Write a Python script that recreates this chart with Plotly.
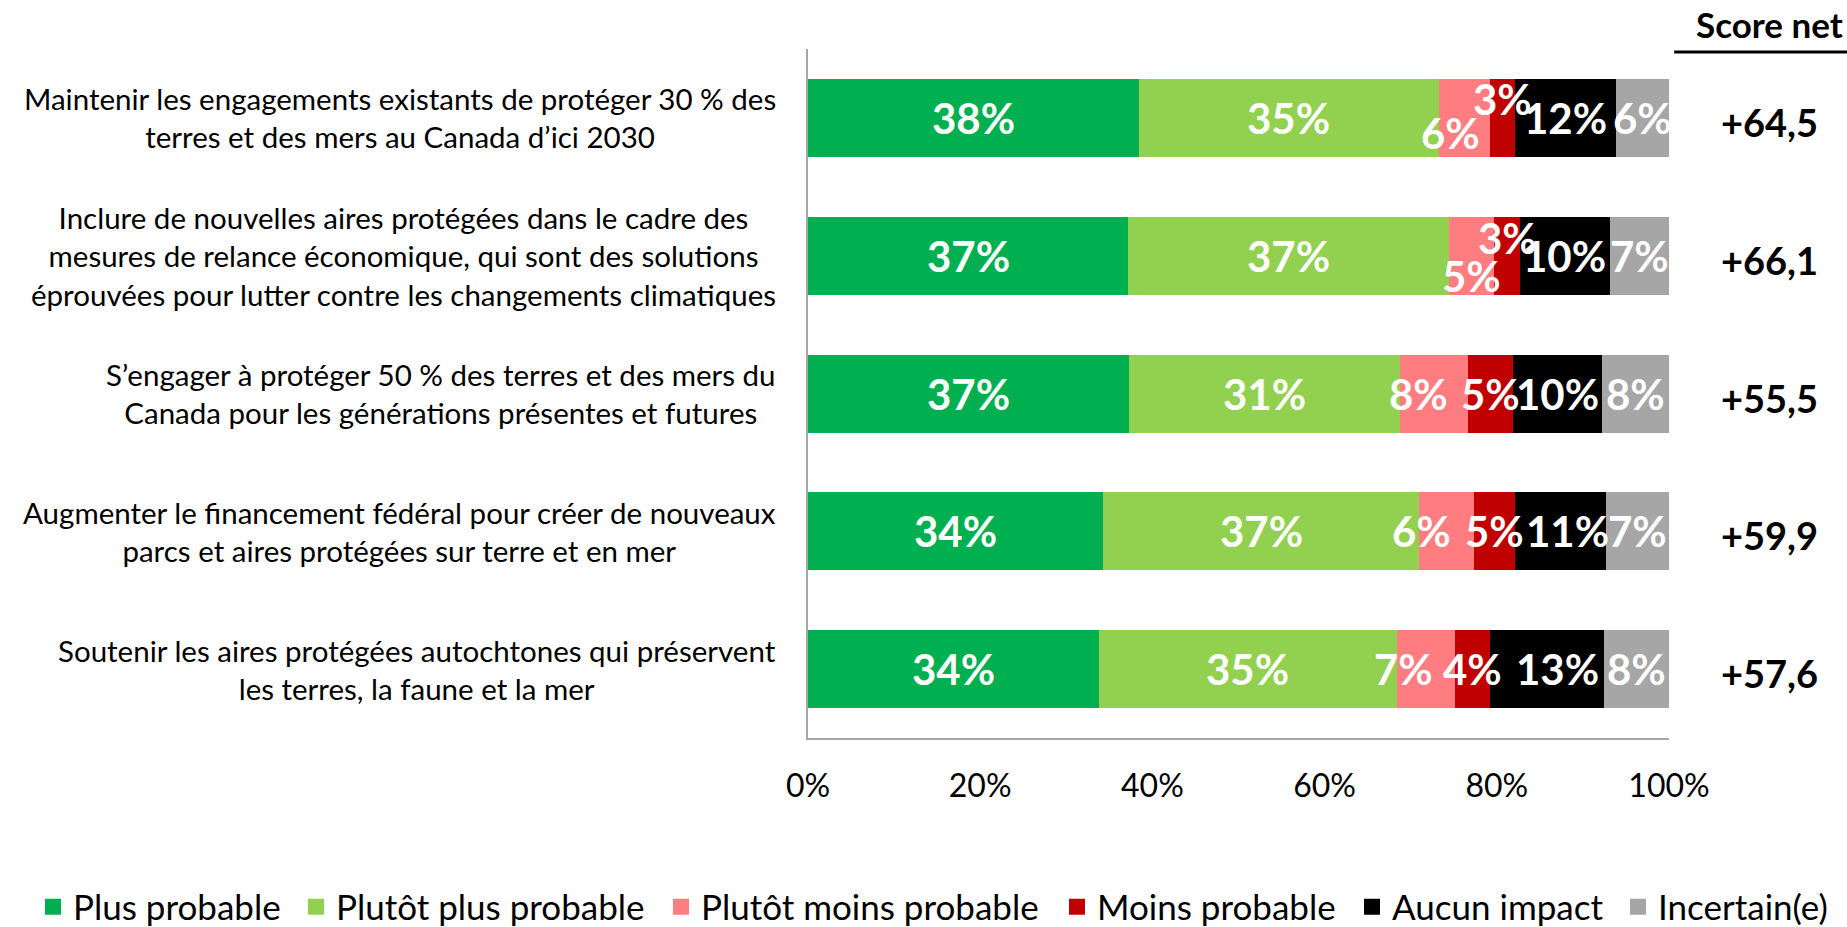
import plotly.graph_objects as go

categories = [
    "Maintenir les engagements existants de protéger 30 % des<br>terres et des mers au Canada d’ici 2030",
    "Inclure de nouvelles aires protégées dans le cadre des<br>mesures de relance économique, qui sont des solutions<br>éprouvées pour lutter contre les changements climatiques",
    "S’engager à protéger 50 % des terres et des mers du<br>Canada pour les générations présentes et futures",
    "Augmenter le financement fédéral pour créer de nouveaux<br>parcs et aires protégées sur terre et en mer",
    "Soutenir les aires protégées autochtones qui préservent<br>les terres, la faune et la mer",
]

series_names = ["Plus probable", "Plutôt plus probable", "Plutôt moins probable",
                "Moins probable", "Aucun impact", "Incertain(e)"]

plus_probable = [38.4, 37.2, 37.3, 34.3, 33.8]
plutot_plus = [34.9, 37.2, 31.4, 36.7, 34.6]
plutot_moins = [5.9, 5.3, 8.0, 6.4, 6.8]
moins_probable = [2.9, 3.0, 5.2, 4.7, 4.0]
aucun_impact = [11.7, 10.4, 10.3, 10.6, 13.2]
incertain = [6.2, 6.9, 7.8, 7.3, 7.6]

score_net = [64.5, 66.1, 55.5, 59.9, 57.6]

tick_values = [0, 20, 40, 60, 80, 100]
tick_labels = ["0%", "20%", "40%", "60%", "80%", "100%"]

colors = ["#00B050", "#92D050", "#FF7C80", "#C00000", "#000000", "#A6A6A6"]
all_series = [plus_probable, plutot_plus, plutot_moins, moins_probable, aucun_impact, incertain]

# label nudges (row, series) -> (xshift, yshift) to mimic label overlap avoidance
nudges = {
    (0, 2): (-14, -15), (0, 3): (0, 19),
    (1, 2): (0, -20), (1, 3): (0, 18),
    (2, 2): (-15, 0),
    (3, 2): (-25, 0), (3, 4): (7, 0),
    (4, 2): (-23, 0), (4, 4): (11, 0),
}

# left edge (px in the figure) of each legend entry
legend_left_px = [33, 296, 661, 1057, 1352, 1618]

FONT = "Lato, 'Open Sans', sans-serif"
W, H = 1847, 927

fig = go.Figure()
for name, vals, col in zip(series_names, all_series, colors):
    fig.add_trace(go.Bar(
        y=categories, x=vals, name=name, orientation="h",
        marker=dict(color=col, line=dict(width=0)),
        hoverinfo="skip", showlegend=False,
    ))

legend_layout = {}
for k, (name, col) in enumerate(zip(series_names, colors)):
    key = "legend" if k == 0 else f"legend{k + 1}"
    fig.add_trace(go.Scatter(
        x=[None], y=[None], mode="markers", name=name,
        marker=dict(symbol="square", size=20, color=col),
        showlegend=True, hoverinfo="skip", legend=key,
    ))
    legend_layout[key] = dict(
        orientation="h", xref="container", yref="container",
        x=legend_left_px[k] / W, xanchor="left",
        y=1 - 907 / H, yanchor="middle",
        font=dict(family=FONT, size=35, color="black"),
        bgcolor="rgba(0,0,0,0)",
    )

annotations = []
for i, cat in enumerate(categories):
    cum = 0.0
    for s, vals in enumerate(all_series):
        v = vals[i]
        mid = cum + v / 2
        cum += v
        dx, dy = nudges.get((i, s), (0, 0))
        annotations.append(dict(
            x=mid, y=cat, xref="x", yref="y", text=f"{round(v)}%",
            showarrow=False, xshift=dx, yshift=dy,
            xanchor="center", yanchor="middle",
            font=dict(family=FONT, size=42, color="white", weight="bold"),
        ))
    annotations.append(dict(
        x=0, y=cat, xref="paper", yref="y", text=cat, showarrow=False,
        xanchor="right", yanchor="middle", xshift=-30, align="center",
        font=dict(family=FONT, size=29.5, color="black"),
    ))
    annotations.append(dict(
        x=1.117, y=cat, xref="paper", yref="y",
        text="+" + f"{score_net[i]:.1f}".replace(".", ","),
        showarrow=False, yshift=-4, xanchor="center", yanchor="middle",
        font=dict(family=FONT, size=38, color="black", weight="bold"),
    ))

annotations.append(dict(
    x=1.117, y=1.037, xref="paper", yref="paper", text="Score net",
    showarrow=False, xanchor="center", yanchor="middle",
    font=dict(family=FONT, size=35, color="black", weight="bold"),
))

fig.update_layout(
    barmode="stack",
    bargap=0.434,
    width=W, height=H,
    margin=dict(l=808, r=178, t=49, b=189, autoexpand=False),
    paper_bgcolor="white", plot_bgcolor="white",
    font=dict(family=FONT, color="black"),
    showlegend=True,
    annotations=annotations,
    shapes=[dict(type="line", xref="paper", yref="paper",
                 x0=1.006, x1=1.21, y0=0.9956, y1=0.9956,
                 line=dict(color="black", width=3))],
    **legend_layout,
)

fig.update_xaxes(
    range=[0, 100], tickvals=tick_values, ticktext=tick_labels,
    showgrid=False, zeroline=False, showline=True, linecolor="#A6A6A6", linewidth=1.5,
    ticks="", ticklabelstandoff=19,
    tickfont=dict(family=FONT, size=32, color="black"),
)
fig.update_yaxes(
    autorange="reversed", showticklabels=False, showgrid=False, zeroline=False,
    showline=True, linecolor="#A6A6A6", linewidth=1.5, ticks="",
)

fig.write_html("out.html", config={"displayModeBar": False},
               post_script="document.body.style.margin='0';")
